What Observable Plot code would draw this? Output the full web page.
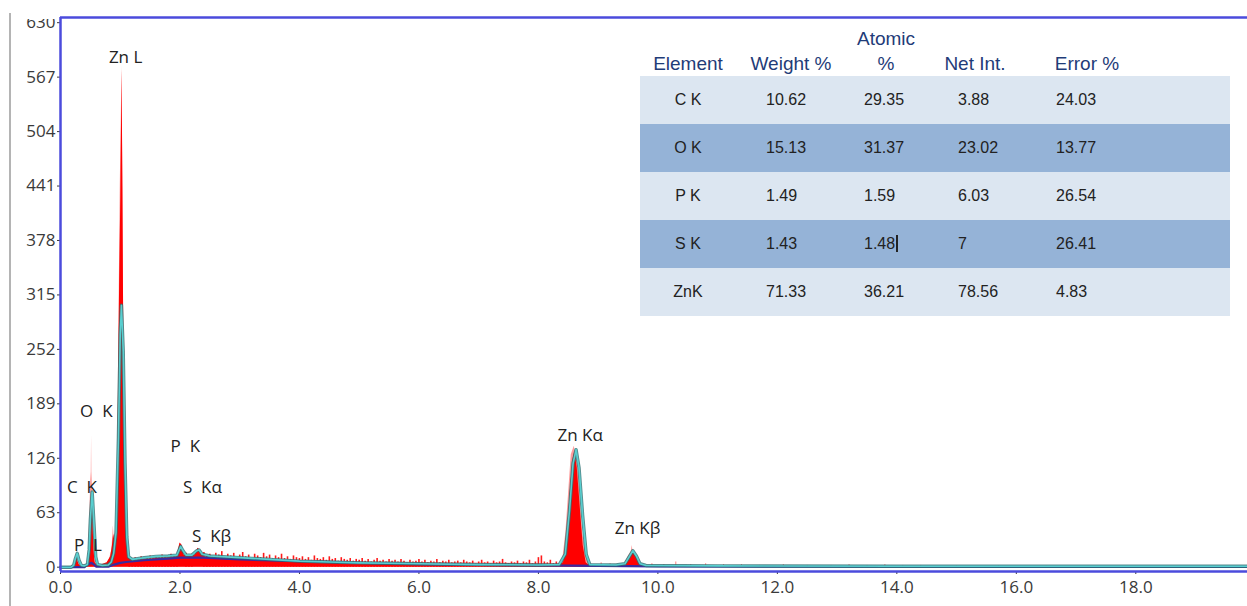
<!DOCTYPE html>
<html>
<head>
<meta charset="utf-8">
<script src="https://cdn.jsdelivr.net/npm/d3@7"></script>
<script src="https://cdn.jsdelivr.net/npm/@observablehq/plot@0.6"></script>
<style>
  html, body { margin: 0; padding: 0; background: #fff; }
  #wrap { position: relative; width: 1247px; height: 606px; overflow: hidden; }
  #chart { position: absolute; left: 0; top: 0; }
  .hdr { position: absolute; font-family: "Liberation Sans", Arial, sans-serif; font-size: 19px; color: #1f3c78; transform: translate(-50%, -50%); white-space: nowrap; }
  .cell { position: absolute; font-family: "Liberation Sans", Arial, sans-serif; font-size: 16px; color: #222; transform: translateY(-50%); white-space: nowrap; }
  .row { position: absolute; left: 640px; width: 590px; height: 48px; }
</style>
</head>
<body>
<div id="wrap">
  <div id="chart"></div>
</div>
<script>
// ---------- data ----------
// measured spectrum (solid red), energy keV / counts
const specE = [0.00,0.15,0.22,0.25,0.27,0.29,0.32,0.36,0.42,0.46,0.49,0.51,0.525,0.54,0.56,0.58,0.62,0.70,0.78,0.84,0.87,0.89,0.91,0.93,0.95,0.97,0.99,1.01,1.03,1.045,1.06,1.08,1.10,1.13,1.16,1.25,1.40,1.60,1.80,1.95,2.00,2.03,2.07,2.15,2.25,2.30,2.34,2.40,2.60,3.00,3.50,4.00,4.50,5.00,5.50,6.00,6.50,7.00,7.50,8.00,8.30,8.42,8.48,8.53,8.58,8.61,8.65,8.70,8.75,8.80,8.85,9.30,9.45,9.50,9.55,9.60,9.65,9.70,9.80,10.5,12.0,14.5,15.0,19.9];
const specC = [0,0,2,8,12,7,2,1,2,5,30,70,84,60,20,5,2,3,5,12,25,38,30,35,80,200,330,430,575,440,250,120,45,15,9,8,9,10,11,12,28,26,14,12,14,22,20,12,11,10,8,7,6,5,4,4,3,3,2.5,2,2,5,30,85,125,134,115,70,25,5,2,2,3,8,15,16,10,3,1.5,1.5,1,0.5,0,0];

// raw spectrum (light red)
const rawE = [0.00,0.20,0.24,0.27,0.30,0.34,0.46,0.49,0.505,0.515,0.52,0.525,0.535,0.55,0.57,0.60,0.80,0.86,0.885,0.90,0.92,0.95,1.00,1.03,1.06,1.10,1.15,1.20,8.40,8.46,8.55,8.60,8.66,8.74,8.82,8.90,9.44,9.50,9.555,9.57,9.585,9.64,9.72,9.80,19.9];
const rawC = [0,0,6,17,4,0,4,60,100,110,152,110,95,70,10,0,4,20,48,30,42,85,440,580,260,50,10,8,4,40,130,140,120,40,8,3,3,12,18,25,18,12,3,1,0];

// fitted spectrum (cyan)
const fitE = [0.00,0.18,0.22,0.25,0.28,0.31,0.35,0.40,0.45,0.48,0.50,0.53,0.56,0.59,0.62,0.70,0.80,0.85,0.89,0.93,0.97,1.00,1.02,1.05,1.08,1.11,1.14,1.20,1.40,1.60,1.80,1.95,2.01,2.05,2.10,2.20,2.28,2.32,2.37,2.50,3.00,3.50,4.00,4.50,5.00,5.50,6.00,7.00,8.00,8.35,8.45,8.52,8.58,8.63,8.68,8.74,8.80,8.86,9.30,9.45,9.52,9.58,9.64,9.70,9.80,11.0,14.0,19.9];
const fitC = [0,0,2,10,16,8,2,1.5,3,20,55,87,50,12,3,2,2.5,6,16,40,150,270,303,250,120,35,12,9,11,12.5,13,14,24,19,14,14,19,20,15,13,11,9,7,6,5,4.5,4,3,2.5,3,15,65,120,136,115,60,15,3,2.5,4,12,19,13,4,2,1.5,1,1];

// background (dark blue)
const bgE = [0.00,0.40,0.45,0.52,0.56,0.60,0.80,0.90,1.00,1.10,1.40,1.80,2.00,2.40,3.00,4.00,5.00,6.00,7.00,8.00,9.00,10.0,12.0,19.9];
const bgC = [0,0,3,5,3,0.5,0.5,3,5,6,8,10,11,11,9,7,5,3.5,2.5,2,1.5,1,0.5,0.3];

// noise spikes above the continuum
const noiseE = [1.15,1.20,1.25,1.30,1.35,1.40,1.45,1.50,1.55,1.60,1.65,1.70,1.75,1.80,1.85,1.90,1.95,
  2.10,2.15,2.20,
  2.40,2.45,2.50,2.55,2.60,2.65,2.70,2.75,2.80,2.85,2.90,2.95,3.00,
  3.05,3.10,3.15,3.20,3.25,3.30,3.35,3.40,3.45,3.50,3.55,3.60,3.65,3.70,3.75,3.80,3.85,3.90,3.95,4.00,
  4.05,4.10,4.15,4.20,4.25,4.30,4.35,4.40,4.45,4.50,4.55,4.60,4.65,4.70,4.75,4.80,4.85,4.90,4.95,5.00,
  5.05,5.10,5.15,5.20,5.25,5.30,5.35,5.40,5.45,5.50,5.55,5.60,5.65,5.70,5.75,5.80,5.85,5.90,5.95,6.00,
  6.05,6.10,6.15,6.20,6.25,6.30,6.35,6.40,6.45,6.50,6.55,6.60,6.65,6.70,6.75,6.80,6.85,6.90,6.95,7.00,
  7.05,7.10,7.15,7.20,7.25,7.30,7.35,7.40,7.45,7.50,7.55,7.60,7.65,7.70,7.75,7.80,7.85,7.90,7.95,8.00,
  8.05,8.10,8.15,8.20,8.25,8.30];
const noiseC = [10,9,11,10,12,9,11,13,10,12,11,14,12,11,15,13,12,
  16,13,15,
  17,13,15,12,16,14,18,12,15,13,16,11,14,
  17,12,14,10,15,13,11,16,12,14,10,13,11,15,10,12,9,13,11,10,
  12,9,11,8,13,10,9,11,8,12,9,10,7,11,9,8,10,7,9,8,
  10,7,9,6,8,10,7,8,6,9,7,8,6,9,7,5,8,6,7,9,
  6,8,5,7,6,9,5,7,6,8,5,6,7,5,8,6,5,7,4,6,
  8,5,6,4,7,5,6,9,5,4,6,5,7,4,6,5,8,4,6,11,
  13,6,5,8,4,6];
const tailE = [9.05,9.2,9.9,10.1,10.3,10.55,10.8,11.1,11.4,11.7,12.1,12.5,12.9,13.2,13.5,13.8,14.1,14.4,15.0,15.7,16.5,17.2,18.0];
const tailC = [5,4,4,3,6,3,4,3,3,2,3,2,2,3,2,3,2,2,1.5,1.5,1.2,1.2,1];

// peak labels
const peakText = ["Zn L","O\u00a0\u00a0K","C\u00a0\u00a0K","P\u00a0\u00a0L","P\u00a0\u00a0K","S\u00a0\u00a0K\u03b1","S\u00a0\u00a0K\u03b2","Zn K\u03b1","Zn K\u03b2"];
const peakE = [1.09,0.60,0.36,0.46,2.09,2.375,2.53,8.70,9.66];
const peakC = [590,180,92,25,139,92.5,35,152,45];

// axis ticks
const yTicks = [0,63,126,189,252,315,378,441,504,567,630];
const xTicks = [0,2,4,6,8,10,12,14,16,18];

// table
const tableHeaders = ["Element","Weight %","Atomic|%","Net Int.","Error %"];
const tableElements = ["C K","O K","P K","S K","ZnK"];
const weightPct = ["10.62","15.13","1.49","1.43","71.33"];
const atomicPct = ["29.35","31.37","1.59","1.48","36.21"];
const netInt = ["3.88","23.02","6.03","7","78.56"];
const errorPct = ["24.03","13.77","26.54","26.41","4.83"];

// ---------- build ----------
const zip = (E, C) => E.map((e, i) => ({e, c: C[i]}));
const spec = zip(specE, specC);
const raw = zip(rawE, rawC);
const fit = zip(fitE, fitC);
const bg = zip(bgE, bgC);
const noise = zip(noiseE, noiseC);
const tail = zip(tailE, tailC);
const peaks = peakText.map((t, i) => ({t, e: peakE[i], c: peakC[i]}));

const frame = "#4b4bdc";
const chart = Plot.plot({
  width: 1247,
  height: 606,
  marginLeft: 60,
  marginRight: 0,
  marginTop: 17,
  marginBottom: 35,
  style: {fontFamily: "'Open Sans', sans-serif", fontSize: "17px", color: "#3a3a3a", background: "transparent"},
  x: {domain: [0, 19.87], ticks: xTicks, tickFormat: d3.format(".1f"), tickSize: 3, tickPadding: 6, label: null},
  y: {domain: [-5, 636], ticks: yTicks, tickFormat: d => String(d), tickSize: 3, tickPadding: 2, label: null},
  marks: [
    Plot.ruleX(tail, {x: "e", y1: 0, y2: "c", stroke: "#ff8080", strokeWidth: 1}),
    Plot.areaY(raw, {x: "e", y1: 0, y2: "c", fill: "#ff8a8a", fillOpacity: 0.85}),
    Plot.ruleX(noise, {x: "e", y1: 0, y2: "c", stroke: "#ff1a1a", strokeWidth: 1.6}),
    Plot.areaY(spec, {x: "e", y1: 0, y2: "c", fill: "#ff0000"}),
    Plot.line(bg, {x: "e", y: "c", stroke: "#3b2a9e", strokeWidth: 2.2}),
    Plot.line(fit, {x: "e", y: "c", stroke: "#2c6f72", strokeWidth: 3.4, strokeOpacity: 0.8}),
    Plot.line(fit, {x: "e", y: "c", stroke: "#58cfd0", strokeWidth: 1.6}),
    Plot.ruleX([0], {stroke: frame, strokeWidth: 2.5}),
    Plot.ruleY([636, -5], {stroke: frame, strokeWidth: 2.5}),
    Plot.text(peaks, {x: "e", y: "c", text: "t", fill: "#222", fontSize: 17})
  ]
});
document.getElementById("chart").appendChild(chart);

// overlays and table (HTML)
const wrap = document.getElementById("wrap");
function add(tag, cls, css, txt) {
  const el = document.createElement(tag);
  if (cls) el.className = cls;
  Object.assign(el.style, css);
  if (txt != null) el.textContent = txt;
  wrap.appendChild(el);
  return el;
}
// clip the top of the y label area and the left gray line
add("div", null, {position: "absolute", left: "12px", top: "0px", width: "46px", height: "19px", background: "#fff"});
add("div", null, {position: "absolute", left: "9px", top: "13px", width: "2px", height: "593px", background: "#b4b4b4"});

const rowColors = ["#dce6f1", "#95b3d7"];
tableElements.forEach((_, i) => {
  add("div", "row", {top: (76 + 48 * i) + "px", background: rowColors[i % 2]});
});
const hdrX = [688, 791, 886, 975, 1087];
tableHeaders.forEach((h, i) => {
  const parts = h.split("|");
  if (parts.length === 2) {
    add("div", "hdr", {left: hdrX[i] + "px", top: "39px"}, parts[0]);
    add("div", "hdr", {left: hdrX[i] + "px", top: "64px"}, parts[1]);
  } else {
    add("div", "hdr", {left: hdrX[i] + "px", top: "64px"}, h);
  }
});
const colLeft = [766, 864, 958, 1056];
const cols = [weightPct, atomicPct, netInt, errorPct];
tableElements.forEach((el, i) => {
  const yc = 100 + 48 * i;
  add("div", "cell", {left: "688px", top: yc + "px", transform: "translate(-50%,-50%)"}, el);
  cols.forEach((col, j) => {
    const c = add("div", "cell", {left: colLeft[j] + "px", top: yc + "px"}, col[i]);
    if (j === 1 && i === 3) {
      const cur = document.createElement("span");
      Object.assign(cur.style, {display: "inline-block", width: "1.5px", height: "17px", background: "#222", marginLeft: "1px", verticalAlign: "-3px"});
      c.appendChild(cur);
    }
  });
});
</script>
</body>
</html>
